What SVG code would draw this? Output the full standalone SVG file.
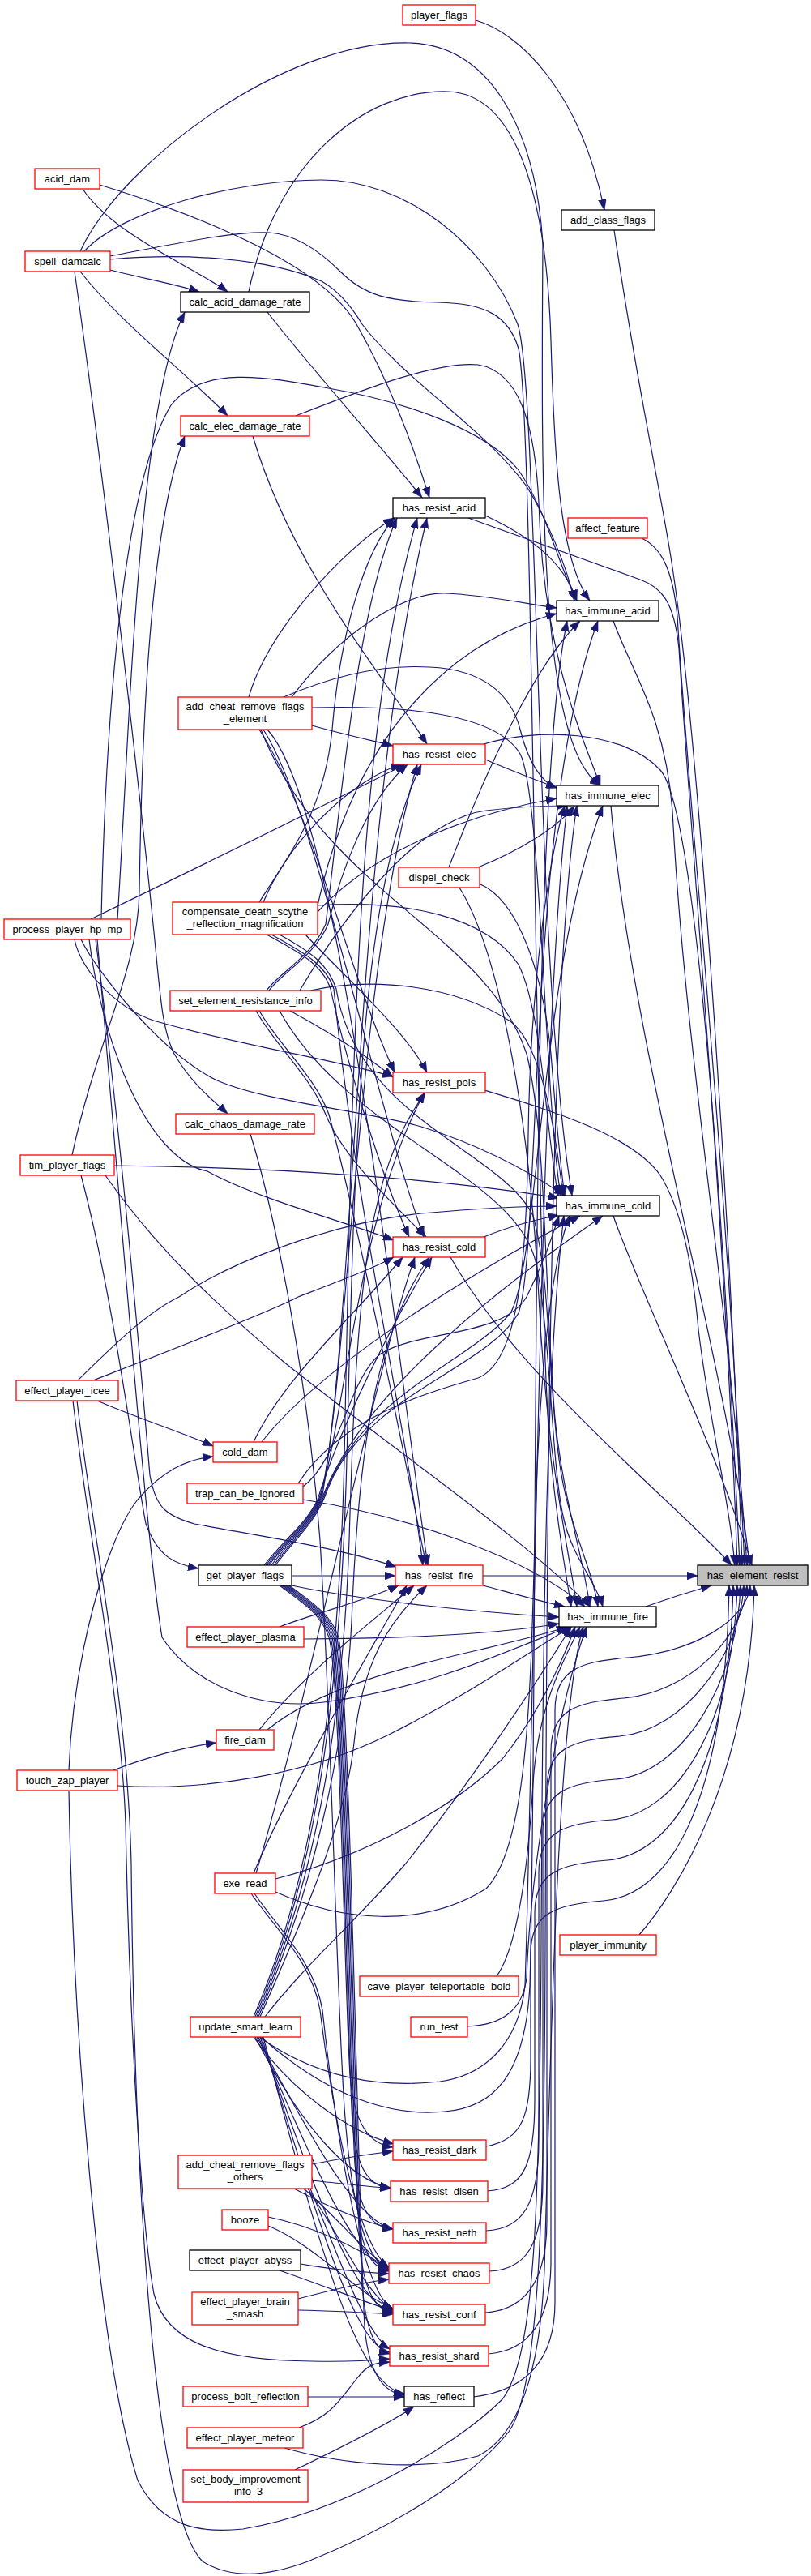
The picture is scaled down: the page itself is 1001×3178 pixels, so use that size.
<svg xmlns="http://www.w3.org/2000/svg" width="1001" height="3178" viewBox="0 0 1001 3178">
<defs>
<marker id="arr" markerUnits="userSpaceOnUse" markerWidth="13" markerHeight="10" viewBox="0 0 13 10" refX="13" refY="5" orient="auto"><path d="M0,0 L13,5 L0,10 z" fill="#191970" stroke="#191970" stroke-width="0.5"/></marker>
</defs>
<style>
.edges path{fill:none;stroke:#191970;stroke-width:1.2;marker-end:url(#arr)}
.node rect{fill:#fff;stroke:#000;stroke-width:1.3}
.node.t rect{stroke:#ff0000}
.node.f rect{fill:#bfbfbf;stroke:#000}
.node text{font-family:"Liberation Sans",Arial,sans-serif;font-size:13px;fill:#000;text-anchor:middle}
</style>
<rect x="0" y="0" width="1001" height="3178" fill="#fff"/>
<g id="edges" class="edges">
<path d="M587,25 C640,40 715,110 746,259"/>
<path d="M758,284 C790,500 815,600 830,700 C860,900 900,1450 916,1931"/>
<path d="M792,664 C815,675 830,700 836,760 C850,1000 895,1400 919,1931"/>
<path d="M757,766 C780,830 820,880 830,1000 C845,1300 900,1600 922,1931"/>
<path d="M754,994 C780,1300 902,1700 925,1931"/>
<path d="M757,1500 C780,1570 890,1800 928,1931"/>
<path d="M797,1982 C825,1972 850,1964 878,1956"/>
<path d="M789,2387 C830,2340 925,2200 931,1956"/>
<path d="M578,639 L790,715 C815,724 832,740 838,800 C850,1000 895,1500 910,1931"/>
<path d="M597,918 C660,898 770,900 815,950 C860,1000 893,1500 913,1931"/>
<path d="M598,1345 C680,1370 780,1400 815,1450 C840,1490 855,1560 862,1640 C875,1750 900,1850 907,1931"/>
<path d="M556,1551 C640,1700 840,1860 903,1931"/>
<path d="M596,1944 L861,1944"/>
<path d="M600,2648 C645,2640 655,2610 655,2540 L655,2410 C655,2360 685,2350 745,2345 C825,2338 895,2230 900,1956"/>
<path d="M602,2703 C647,2700 660,2670 660,2590 L660,2360 C660,2310 690,2300 750,2295 C830,2288 900,2180 905,1956"/>
<path d="M600,2752 C645,2750 665,2720 665,2640 L665,2310 C665,2260 695,2250 755,2245 C835,2238 905,2130 910,1956"/>
<path d="M604,2802 C649,2800 670,2770 670,2690 L670,2260 C670,2210 700,2200 760,2195 C840,2188 910,2080 914,1956"/>
<path d="M599,2853 C644,2850 675,2820 675,2740 L675,2207 C675,2157 705,2147 765,2142 C845,2135 914,2040 918,1956"/>
<path d="M603,2904 C648,2900 680,2870 680,2790 L680,2160 C680,2110 710,2100 770,2095 C850,2088 918,2020 922,1956"/>
<path d="M585,2957 C640,2950 685,2920 685,2840 L685,2110 C685,2060 715,2050 775,2045 C855,2038 922,2000 926,1956"/>
<path d="M599,636 C650,660 695,690 712,741"/>
<path d="M599,937 C630,950 660,962 688,972"/>
<path d="M595,1527 C630,1512 665,1504 690,1499"/>
<path d="M596,1956 C630,1965 665,1975 697,1982"/>
<path d="M590,1070 C640,1050 690,1020 709,994"/>
<path d="M554,1070 C600,950 660,820 716,766"/>
<path d="M591,1090 C640,1110 670,1200 680,1300 C688,1400 692,1440 697,1475"/>
<path d="M567,1095 C620,1180 655,1400 665,1600 C675,1800 700,1900 712,1982"/>
<path d="M613,2438 C640,2400 652,2300 658,2200 C664,2100 700,2040 716,2007"/>
<path d="M577,2500 C620,2498 645,2480 650,2440 C655,2300 690,2100 724,2007"/>
<path d="M330,385 C380,450 470,550 521,614"/>
<path d="M307,360 C340,200 450,110 553,113 C640,116 675,250 680,420 C684,560 690,690 728,741"/>
<path d="M312,538 C360,700 470,830 527,918"/>
<path d="M365,513 C450,480 540,445 590,450 C640,458 660,520 665,620 C670,800 715,900 741,969"/>
<path d="M309,1399 C340,1500 380,1700 395,1900 C410,2150 415,2450 425,2600 C435,2740 455,2790 480,2800"/>
<path d="M307,860 C330,780 420,680 486,639"/>
<path d="M385,895 C420,905 452,912 485,920"/>
<path d="M320,900 C385,1000 430,1200 487,1323"/>
<path d="M325,900 C390,1000 460,1350 523,1526"/>
<path d="M330,900 C420,1000 480,1600 528,1931"/>
<path d="M360,860 C420,780 500,730 550,732 C600,734 650,745 687,750"/>
<path d="M350,860 C420,830 480,820 530,823 C600,826 632,860 642,900 C652,940 668,965 687,972"/>
<path d="M385,873 C500,870 612,880 642,930 C668,980 672,1350 692,1475"/>
<path d="M322,900 C400,1100 600,1150 650,1300 C675,1400 672,1600 685,1750 C695,1850 720,1920 728,1982"/>
<path d="M320,1113 C360,1050 400,1000 410,900 C420,780 450,680 487,639"/>
<path d="M325,1113 C360,1030 440,960 495,943"/>
<path d="M377,1153 C420,1200 500,1270 527,1323"/>
<path d="M329,1153 C370,1175 398,1190 408,1220 C425,1300 470,1450 505,1526"/>
<path d="M335,1153 C375,1175 402,1190 412,1220 C440,1500 500,1750 522,1931"/>
<path d="M392,1117 C440,900 560,790 687,757"/>
<path d="M392,1125 C470,1040 600,1000 687,985"/>
<path d="M392,1117 C500,1110 600,1130 640,1190 C670,1250 674,1400 689,1475"/>
<path d="M345,1153 C385,1175 405,1190 415,1220 C440,1380 620,1420 658,1500 C680,1580 676,1700 690,1800 C700,1880 730,1930 738,1982"/>
<path d="M329,1222 C345,1200 385,1180 402,1140 C420,1000 440,750 490,639"/>
<path d="M332,1222 C348,1200 388,1180 405,1140 C420,1080 450,990 503,943"/>
<path d="M358,1247 C400,1270 450,1300 485,1329"/>
<path d="M316,1247 C340,1290 385,1330 402,1375 C425,1430 480,1480 526,1526"/>
<path d="M320,1247 C345,1290 390,1330 406,1375 C440,1500 500,1800 526,1931"/>
<path d="M370,1222 C430,1120 520,1010 600,1000 C640,995 670,994 700,994"/>
<path d="M383,1222 C460,1205 560,1215 630,1260 C670,1290 686,1400 695,1475"/>
<path d="M345,1247 C430,1400 640,1450 662,1560 C680,1650 680,1800 695,1870 C705,1920 735,1950 744,1982"/>
<path d="M313,1779 C350,1700 440,1620 497,1551"/>
<path d="M323,1779 C400,1680 600,1560 716,1500"/>
<path d="M374,1834 C420,1800 430,1700 470,1670 C520,1640 620,1650 650,1600 C670,1560 680,1530 690,1500"/>
<path d="M374,1850 C500,1870 650,1920 722,1982"/>
<path d="M368,1830 C420,1750 520,1720 590,1700 C640,1680 650,1560 652,1400 C655,1200 680,1050 697,994"/>
<path d="M360,1944 L488,1944"/>
<path d="M360,1956 C450,1975 600,1990 690,1995"/>
<path d="M326,1931 C350,1900 378,1880 392,1850 C420,1760 480,1640 533,1551"/>
<path d="M328,1931 C352,1900 380,1880 394,1848 C425,1760 440,1500 524,1348"/>
<path d="M330,1931 C354,1900 382,1880 396,1846 C430,1700 440,1200 515,943"/>
<path d="M332,1931 C356,1900 384,1880 398,1844 C440,1600 440,1000 527,639"/>
<path d="M335,1931 C358,1900 386,1880 400,1842 C450,1720 600,1600 744,1500"/>
<path d="M338,1931 C360,1900 388,1880 402,1840 C450,1720 580,1680 630,1620 C665,1560 665,1200 744,994"/>
<path d="M340,1931 C362,1900 390,1880 404,1838 C450,1720 600,1690 640,1620 C668,1540 650,1000 738,766"/>
<path d="M345,1956 C370,1975 396,1990 406,2020 C420,2070 425,2450 432,2560 C437,2620 455,2645 485,2649"/>
<path d="M347,1956 C372,1975 398,1990 408,2020 C422,2075 428,2500 435,2620 C440,2675 455,2697 482,2700"/>
<path d="M349,1956 C374,1975 400,1990 410,2020 C424,2080 431,2550 438,2670 C443,2730 460,2748 485,2750"/>
<path d="M351,1956 C376,1975 402,1990 412,2020 C426,2085 434,2600 441,2720 C446,2780 460,2798 480,2802"/>
<path d="M353,1956 C378,1975 404,1990 414,2020 C428,2090 437,2650 444,2770 C449,2830 465,2850 485,2853"/>
<path d="M355,1956 C380,1975 406,1990 416,2020 C430,2095 440,2700 447,2820 C452,2880 465,2900 481,2904"/>
<path d="M357,1956 C382,1975 408,1990 418,2020 C432,2100 443,2750 450,2870 C455,2930 475,2952 499,2955"/>
<path d="M375,2022 C500,2022 620,2015 690,2003"/>
<path d="M345,2007 C390,1990 450,1975 492,1956"/>
<path d="M320,2134 C380,2060 460,2000 511,1956"/>
<path d="M330,2134 C420,2060 600,2040 700,2007"/>
<path d="M340,2318 C450,2290 560,2230 620,2170 C660,2120 690,2060 710,2007"/>
<path d="M340,2334 C420,2370 520,2380 600,2330 C650,2280 655,2100 660,1900 C665,1700 680,1560 703,1500"/>
<path d="M313,2311 C360,2200 450,2050 502,1956"/>
<path d="M316,2311 C380,2100 460,1700 512,1551"/>
<path d="M310,2336 C340,2380 385,2420 395,2480 C410,2600 440,2770 480,2797"/>
<path d="M314,2336 C344,2380 388,2420 398,2480 C413,2620 445,2830 485,2848"/>
<path d="M313,2488 C360,2380 415,2200 425,1800 C435,1300 440,900 515,639"/>
<path d="M315,2488 C362,2380 418,2200 428,1800 C438,1400 445,1100 520,943"/>
<path d="M317,2488 C364,2380 421,2200 431,1900 C440,1600 450,1450 525,1348"/>
<path d="M319,2488 C366,2380 424,2200 434,2000 C442,1800 460,1650 530,1551"/>
<path d="M321,2488 C368,2380 427,2250 437,2150 C447,2050 480,2000 527,1956"/>
<path d="M327,2488 C380,2420 430,2380 500,2300 C580,2200 660,2080 705,2007"/>
<path d="M313,2513 C360,2580 430,2630 486,2645"/>
<path d="M315,2513 C370,2620 430,2690 482,2699"/>
<path d="M317,2513 C385,2640 440,2740 485,2750"/>
<path d="M319,2513 C390,2680 440,2790 480,2800"/>
<path d="M321,2513 C395,2720 440,2845 485,2852"/>
<path d="M323,2513 C398,2760 440,2895 481,2902"/>
<path d="M325,2513 C400,2800 445,2945 499,2953"/>
<path d="M320,2513 C400,2570 480,2575 543,2568 C600,2560 640,2520 648,2450 C660,2100 665,1300 700,994"/>
<path d="M322,2513 C420,2600 500,2610 549,2605 C610,2600 648,2560 654,2450 C666,2000 650,1000 700,766"/>
<path d="M385,2670 C420,2663 452,2658 485,2654"/>
<path d="M385,2690 C420,2694 452,2697 482,2700"/>
<path d="M363,2700 C400,2720 440,2738 485,2750"/>
<path d="M375,2700 C420,2740 452,2780 480,2798"/>
<path d="M380,2700 C420,2760 452,2830 485,2850"/>
<path d="M383,2700 C420,2790 452,2880 481,2898"/>
<path d="M331,2735 C380,2745 440,2770 480,2800"/>
<path d="M331,2746 C390,2770 440,2830 485,2848"/>
<path d="M371,2793 C410,2800 445,2803 480,2805"/>
<path d="M345,2801 C400,2820 450,2840 485,2851"/>
<path d="M368,2836 C410,2825 450,2815 480,2812"/>
<path d="M368,2850 C410,2851 450,2853 485,2855"/>
<path d="M380,2957 L499,2957"/>
<path d="M369,2995 C410,2980 420,2960 440,2935 C455,2915 465,2915 481,2914"/>
<path d="M351,3020 C420,3040 520,3050 590,3030 C650,3000 668,2900 672,2800 C680,2500 690,2100 720,2007"/>
<path d="M364,3047 C420,3020 480,2990 511,2969"/>
<path d="M102,233 C140,290 240,330 281,360"/>
<path d="M123,228 C260,270 400,330 440,400 C480,470 510,550 530,614"/>
<path d="M136,333 C170,342 215,350 246,360"/>
<path d="M99,335 C150,400 230,460 281,513"/>
<path d="M92,335 C130,600 175,1000 190,1150 C198,1230 200,1270 215,1300 C235,1335 260,1355 281,1374"/>
<path d="M99,310 C150,200 350,50 505,53 C600,55 660,150 670,300 C668,600 665,920 741,969"/>
<path d="M104,310 C150,260 290,222 397,222 C500,222 600,300 639,400 C665,480 660,1200 706,1475"/>
<path d="M136,316 C220,300 290,285 333,287 C370,290 400,315 420,335 C450,365 480,372 540,373 C600,374 628,390 640,430 C660,520 660,1600 680,1800 C690,1900 700,1950 705,1982"/>
<path d="M136,320 C230,312 330,318 397,347 C420,360 435,380 447,400 C500,470 600,530 650,600 C675,640 700,700 709,741"/>
<path d="M145,1134 C160,900 170,500 228,385"/>
<path d="M112,1134 C240,1072 370,1009 500,943"/>
<path d="M92,1159 C100,1200 150,1250 200,1262 C300,1290 400,1305 485,1328"/>
<path d="M100,1159 C120,1200 200,1300 268,1333 C330,1360 450,1370 520,1390 C600,1415 660,1450 697,1475"/>
<path d="M110,1159 C125,1280 180,1430 256,1445 C320,1480 420,1505 486,1530"/>
<path d="M118,1159 C150,1400 175,1700 185,1820 C192,1860 205,1870 240,1880 C320,1895 420,1910 489,1933"/>
<path d="M120,1159 C150,1500 180,1900 200,2020 C240,2080 320,2110 400,2100 C520,2085 620,2040 702,2007"/>
<path d="M125,1134 C130,900 150,600 211,500 C250,450 330,465 400,478 C500,495 600,530 640,580 C675,630 690,700 712,741"/>
<path d="M141,1438 C350,1440 550,1455 690,1478"/>
<path d="M89,1425 C120,1280 170,1200 172,1100 C175,900 185,650 228,538"/>
<path d="M100,1450 C140,1600 165,1800 180,1880 C195,1920 215,1930 245,1935"/>
<path d="M130,1450 C200,1550 280,1620 350,1680 C500,1800 650,1900 728,1982"/>
<path d="M120,1728 C170,1750 220,1765 263,1784"/>
<path d="M96,1703 C140,1660 180,1620 221,1600 C280,1560 400,1510 520,1497 C600,1490 650,1488 687,1488"/>
<path d="M115,1703 C200,1670 330,1620 368,1600 C420,1580 460,1565 486,1551"/>
<path d="M90,1728 C110,1900 150,2100 155,2250 C160,2500 175,2750 190,2830 C205,2890 270,2912 385,2913 C430,2914 460,2912 481,2910"/>
<path d="M95,1728 C115,1900 158,2100 162,2300 C166,2700 190,3100 250,3160 C290,3185 340,3175 380,3160 C480,3120 580,3060 628,3000 C664,2950 672,2750 673,2400 C675,1800 680,1200 712,994"/>
<path d="M140,2184 C180,2168 230,2155 267,2150"/>
<path d="M145,2203 C250,2210 380,2190 480,2140 C580,2090 650,2040 705,2007"/>
<path d="M85,2184 C90,2050 130,1900 170,1850 C200,1815 230,1800 263,1797"/>
<path d="M85,2209 C90,2500 120,2900 170,3060 C200,3120 250,3125 300,3120 C420,3100 560,3020 620,2960 C658,2910 666,2750 668,2400 C670,1900 678,1650 696,1500"/>
</g>
<g id="n_acid_dam" class="node t"><rect x="43" y="208" width="80" height="25"/><text x="83" y="225">acid_dam</text></g>
<g id="n_spell_damcalc" class="node t"><rect x="31" y="310" width="105" height="25"/><text x="83.5" y="327">spell_damcalc</text></g>
<g id="n_process_player_hp_mp" class="node t"><rect x="5" y="1134" width="156" height="25"/><text x="83" y="1151">process_player_hp_mp</text></g>
<g id="n_tim_player_flags" class="node t"><rect x="25" y="1425" width="116" height="25"/><text x="83" y="1442">tim_player_flags</text></g>
<g id="n_effect_player_icee" class="node t"><rect x="20" y="1703" width="126" height="25"/><text x="83" y="1720">effect_player_icee</text></g>
<g id="n_touch_zap_player" class="node t"><rect x="21" y="2184" width="124" height="25"/><text x="83" y="2201">touch_zap_player</text></g>
<g id="n_calc_acid_damage_rate" class="node"><rect x="223" y="360" width="159" height="25"/><text x="302.5" y="377">calc_acid_damage_rate</text></g>
<g id="n_calc_elec_damage_rate" class="node t"><rect x="223" y="513" width="159" height="25"/><text x="302.5" y="530">calc_elec_damage_rate</text></g>
<g id="n_add_cheat_remove_flags_element" class="node t"><rect x="220" y="860" width="165" height="40"/><text x="302.5" y="876">add_cheat_remove_flags</text><text x="302.5" y="891">_element</text></g>
<g id="n_compensate_death_scythe_reflection_magnification" class="node t"><rect x="213" y="1113" width="179" height="40"/><text x="302.5" y="1129">compensate_death_scythe</text><text x="302.5" y="1144">_reflection_magnification</text></g>
<g id="n_set_element_resistance_info" class="node t"><rect x="210" y="1222" width="186" height="25"/><text x="303" y="1239">set_element_resistance_info</text></g>
<g id="n_calc_chaos_damage_rate" class="node t"><rect x="217" y="1374" width="171" height="25"/><text x="302.5" y="1391">calc_chaos_damage_rate</text></g>
<g id="n_cold_dam" class="node t"><rect x="263" y="1779" width="79" height="25"/><text x="302.5" y="1796">cold_dam</text></g>
<g id="n_trap_can_be_ignored" class="node t"><rect x="231" y="1830" width="143" height="25"/><text x="302.5" y="1847">trap_can_be_ignored</text></g>
<g id="n_get_player_flags" class="node"><rect x="245" y="1931" width="115" height="25"/><text x="302.5" y="1948">get_player_flags</text></g>
<g id="n_effect_player_plasma" class="node t"><rect x="231" y="2007" width="144" height="25"/><text x="303" y="2024">effect_player_plasma</text></g>
<g id="n_fire_dam" class="node t"><rect x="267" y="2134" width="71" height="25"/><text x="302.5" y="2151">fire_dam</text></g>
<g id="n_exe_read" class="node t"><rect x="265" y="2311" width="75" height="25"/><text x="302.5" y="2328">exe_read</text></g>
<g id="n_update_smart_learn" class="node t"><rect x="235" y="2488" width="136" height="25"/><text x="303" y="2505">update_smart_learn</text></g>
<g id="n_add_cheat_remove_flags_others" class="node t"><rect x="220" y="2659" width="165" height="41"/><text x="302.5" y="2675">add_cheat_remove_flags</text><text x="302.5" y="2690">_others</text></g>
<g id="n_booze" class="node t"><rect x="274" y="2726" width="57" height="25"/><text x="302.5" y="2743">booze</text></g>
<g id="n_effect_player_abyss" class="node"><rect x="234" y="2776" width="137" height="25"/><text x="302.5" y="2793">effect_player_abyss</text></g>
<g id="n_effect_player_brain_smash" class="node t"><rect x="237" y="2828" width="131" height="40"/><text x="302.5" y="2844">effect_player_brain</text><text x="302.5" y="2859">_smash</text></g>
<g id="n_process_bolt_reflection" class="node t"><rect x="226" y="2944" width="154" height="25"/><text x="303" y="2961">process_bolt_reflection</text></g>
<g id="n_effect_player_meteor" class="node t"><rect x="231" y="2995" width="143" height="25"/><text x="302.5" y="3012">effect_player_meteor</text></g>
<g id="n_set_body_improvement_info_3" class="node t"><rect x="226" y="3047" width="154" height="40"/><text x="303" y="3063">set_body_improvement</text><text x="303" y="3078">_info_3</text></g>
<g id="n_player_flags" class="node t"><rect x="497" y="6" width="90" height="25"/><text x="542" y="23">player_flags</text></g>
<g id="n_has_resist_acid" class="node"><rect x="485" y="614" width="114" height="25"/><text x="542" y="631">has_resist_acid</text></g>
<g id="n_has_resist_elec" class="node t"><rect x="485" y="918" width="114" height="25"/><text x="542" y="935">has_resist_elec</text></g>
<g id="n_dispel_check" class="node t"><rect x="492" y="1070" width="100" height="25"/><text x="542" y="1087">dispel_check</text></g>
<g id="n_has_resist_pois" class="node t"><rect x="485" y="1323" width="114" height="25"/><text x="542" y="1340">has_resist_pois</text></g>
<g id="n_has_resist_cold" class="node t"><rect x="485" y="1526" width="114" height="25"/><text x="542" y="1543">has_resist_cold</text></g>
<g id="n_has_resist_fire" class="node t"><rect x="488" y="1931" width="108" height="25"/><text x="542" y="1948">has_resist_fire</text></g>
<g id="n_cave_player_teleportable_bold" class="node t"><rect x="444" y="2438" width="196" height="25"/><text x="542" y="2455">cave_player_teleportable_bold</text></g>
<g id="n_run_test" class="node t"><rect x="507" y="2488" width="70" height="25"/><text x="542" y="2505">run_test</text></g>
<g id="n_has_resist_dark" class="node t"><rect x="485" y="2640" width="115" height="25"/><text x="542.5" y="2657">has_resist_dark</text></g>
<g id="n_has_resist_disen" class="node t"><rect x="482" y="2691" width="120" height="25"/><text x="542" y="2708">has_resist_disen</text></g>
<g id="n_has_resist_neth" class="node t"><rect x="485" y="2742" width="115" height="25"/><text x="542.5" y="2759">has_resist_neth</text></g>
<g id="n_has_resist_chaos" class="node t"><rect x="480" y="2792" width="124" height="25"/><text x="542" y="2809">has_resist_chaos</text></g>
<g id="n_has_resist_conf" class="node t"><rect x="485" y="2843" width="114" height="25"/><text x="542" y="2860">has_resist_conf</text></g>
<g id="n_has_resist_shard" class="node t"><rect x="481" y="2894" width="122" height="25"/><text x="542" y="2911">has_resist_shard</text></g>
<g id="n_has_reflect" class="node"><rect x="499" y="2944" width="86" height="25"/><text x="542" y="2961">has_reflect</text></g>
<g id="n_add_class_flags" class="node"><rect x="693" y="259" width="115" height="25"/><text x="750.5" y="276">add_class_flags</text></g>
<g id="n_affect_feature" class="node t"><rect x="701" y="639" width="98" height="25"/><text x="750" y="656">affect_feature</text></g>
<g id="n_has_immune_acid" class="node"><rect x="687" y="741" width="126" height="25"/><text x="750" y="758">has_immune_acid</text></g>
<g id="n_has_immune_elec" class="node"><rect x="687" y="969" width="126" height="25"/><text x="750" y="986">has_immune_elec</text></g>
<g id="n_has_immune_cold" class="node"><rect x="687" y="1475" width="127" height="25"/><text x="750.5" y="1492">has_immune_cold</text></g>
<g id="n_has_immune_fire" class="node"><rect x="690" y="1982" width="120" height="25"/><text x="750" y="1999">has_immune_fire</text></g>
<g id="n_player_immunity" class="node t"><rect x="691" y="2387" width="119" height="25"/><text x="750.5" y="2404">player_immunity</text></g>
<g id="n_has_element_resist" class="node f"><rect x="861" y="1931" width="136" height="25"/><text x="929" y="1948">has_element_resist</text></g>
</svg>
